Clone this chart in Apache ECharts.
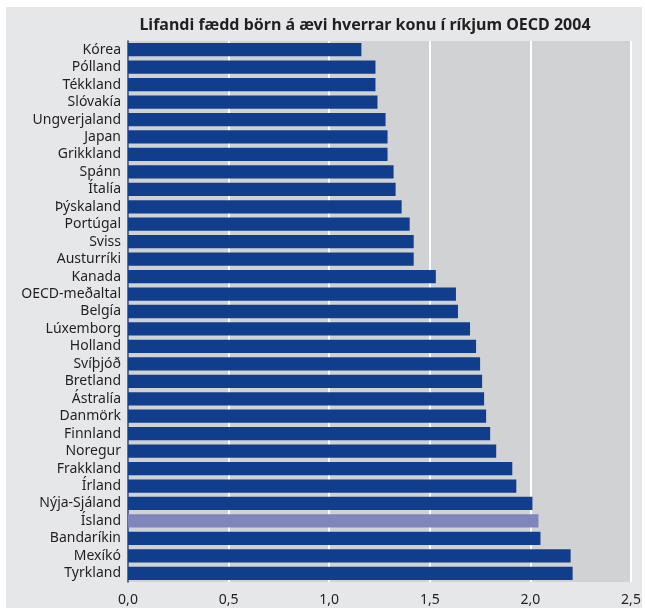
<!DOCTYPE html>
<html>
<head>
<meta charset="utf-8">
<script src="https://cdn.jsdelivr.net/npm/echarts@6/dist/echarts.min.js"></script>
<style>
html,body{margin:0;padding:0;background:#ffffff;}
#chart{width:645px;height:608px;}
</style>
</head>
<body>
<div id="chart"></div>
<script>
const titleText = 'Lifandi fædd börn á ævi hverrar konu í ríkjum OECD 2004';
const countries = ['Kórea','Pólland','Tékkland','Slóvakía','Ungverjaland','Japan','Grikkland','Spánn','Ítalía','Þýskaland','Portúgal','Sviss','Austurríki','Kanada','OECD-meðaltal','Belgía','Lúxemborg','Holland','Svíþjóð','Bretland','Ástralía','Danmörk','Finnland','Noregur','Frakkland','Írland','Nýja-Sjáland','Ísland','Bandaríkin','Mexíkó','Tyrkland'];
const births = [1.16,1.23,1.23,1.24,1.28,1.29,1.29,1.32,1.33,1.36,1.40,1.42,1.42,1.53,1.63,1.64,1.70,1.73,1.75,1.76,1.77,1.78,1.80,1.83,1.91,1.93,2.01,2.04,2.05,2.20,2.21];
const highlight = 'Ísland';
const xTicks = [0, 0.5, 1, 1.5, 2, 2.5];

const FONT = 'Noto Sans';
const chart = echarts.init(document.getElementById('chart'), null, {renderer:'canvas'});
chart.setOption({
  animation:false,
  backgroundColor:'#ffffff',
  graphic:[{type:'rect', z:-10, shape:{x:6,y:7,width:636,height:601}, style:{fill:'#e6e7e8'}}],
  title:{text:titleText, left:360, textAlign:'center', top:12,
    textStyle:{fontFamily:FONT, fontSize:16, fontWeight:'bold', color:'#231f20'}},
  grid:{left:128, top:41, right:14, bottom:26, show:true, backgroundColor:'#d1d2d4', borderWidth:0},
  xAxis:{type:'value', min:xTicks[0], max:xTicks[xTicks.length-1], interval:0.5,
    axisLine:{show:false}, axisTick:{show:false},
    splitLine:{show:true, lineStyle:{color:'#ffffff', width:2}},
    axisLabel:{fontFamily:FONT, fontSize:14, color:'#231f20', margin:11,
      formatter:v=>v.toFixed(1).replace('.',',')}},
  yAxis:{type:'category', data:countries, inverse:true,
    axisLine:{show:true, lineStyle:{color:'#1a3f8a', width:1.5}},
    axisTick:{show:false},
    axisLabel:{interval:0, fontFamily:FONT, fontSize:14, color:'#231f20', margin:7}},
  series:[{type:'bar', barCategoryGap:'24%',
    data:births.map((v,i)=>({value:v, itemStyle:{color: countries[i]===highlight ? '#7f86bb' : '#103e8c'}}))}]
});
</script>
</body>
</html>
